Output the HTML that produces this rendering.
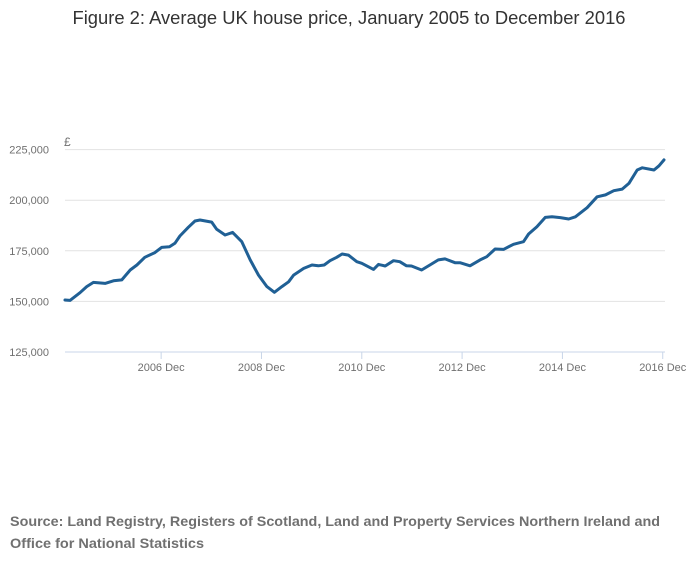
<!DOCTYPE html>
<html><head><meta charset="utf-8"><style>
body{margin:0;background:#fff;font-family:"Liberation Sans",sans-serif;}
svg{display:block}
</style></head><body>
<svg width="700" height="574" viewBox="0 0 700 574">
<text x="349" y="24" text-anchor="middle" font-size="18" fill="#333" textLength="553" lengthAdjust="spacingAndGlyphs">Figure 2: Average UK house price, January 2005 to December 2016</text>
<g id="grid"></g>
<g id="yl"></g>
<text x="64" y="146" font-size="12" fill="#707070">£</text>
<line x1="65" y1="352" x2="665" y2="352" stroke="#c8d5e8" stroke-width="1"/>
<g id="xt"></g>
<path id="line" fill="none" stroke="#206095" stroke-width="3" stroke-linejoin="round" stroke-linecap="round"/>
<text x="10" y="526" font-size="14" font-weight="bold" fill="#707070" textLength="650" lengthAdjust="spacingAndGlyphs">Source: Land Registry, Registers of Scotland, Land and Property Services Northern Ireland and</text>
<text x="10" y="548" font-size="14" font-weight="bold" fill="#707070" textLength="194" lengthAdjust="spacingAndGlyphs">Office for National Statistics</text>
</svg>
<script>
const months=[0,1.2,3.6,5.2,6.8,9.6,11.6,13.6,15.6,17.2,19.1,21.5,23.1,25,26.3,27.5,29.5,31.1,32.3,35.1,36.3,38.3,40.1,42.3,44.3,46.3,48.3,50.1,51.9,53.5,54.7,57.1,59.1,60.6,62,63.4,65,66.3,67.8,69.8,71,72.6,73.8,75,76.6,78.6,80.1,81.7,82.9,85.3,87.3,89.3,90.9,93.3,94.5,96.9,99.3,100.9,102.9,104.9,107.3,109.7,110.9,112.9,114.9,116.5,118.5,120.5,122.1,124.9,127.3,129.3,131.3,133.3,134.9,136.9,138.1,140.9,142.1,143.3];
const prices=[150700,150500,154300,157300,159400,158900,160200,160600,165500,168000,171800,174100,176700,177000,178700,182300,186600,189700,190200,189200,185600,182800,184100,179500,170500,163000,157300,154500,157300,159700,163000,166300,168000,167600,168000,170100,171800,173400,172900,169600,168800,167100,165800,168300,167500,170100,169600,167600,167500,165500,168000,170500,171000,169100,169100,167600,170500,172100,175900,175700,178200,179500,183300,186900,191500,191800,191400,190700,191800,196300,201700,202600,204700,205500,208300,214900,216000,214900,217000,219900];
const yTicks=[125000,150000,175000,200000,225000];
const xTickMonths=[23,47,71,95,119,143];
const xTickLabels=["2006 Dec","2008 Dec","2010 Dec","2012 Dec","2014 Dec","2016 Dec"];
const NS="http://www.w3.org/2000/svg";
const X=m=>65+m*4.18;
const Y=v=>352-(v-125000)/25000*50.6;
const grid=document.getElementById('grid'),yl=document.getElementById('yl'),xt=document.getElementById('xt');
yTicks.forEach(v=>{
  if(v>125000){const l=document.createElementNS(NS,'line');
  l.setAttribute('x1',65);l.setAttribute('x2',665);l.setAttribute('y1',Y(v));l.setAttribute('y2',Y(v));
  l.setAttribute('stroke','#e2e2e2');
  
  
  grid.appendChild(l);}
  const t=document.createElementNS(NS,'text');
  t.setAttribute('x',49);t.setAttribute('y',Y(v)+4);t.setAttribute('text-anchor','end');
  t.setAttribute('font-size','11');t.setAttribute('fill','#707070');
  t.textContent=v.toLocaleString('en-GB');
  
  
  yl.appendChild(t);
});
xTickMonths.forEach((m,i)=>{
  const l=document.createElementNS(NS,'line');
  l.setAttribute('x1',X(m));l.setAttribute('x2',X(m));l.setAttribute('y1',352);l.setAttribute('y2',359);
  l.setAttribute('stroke','#c8d5e8');
  
  
  xt.appendChild(l);
  const t=document.createElementNS(NS,'text');
  t.setAttribute('x',X(m));t.setAttribute('y',371);t.setAttribute('text-anchor','middle');
  t.setAttribute('font-size','11');t.setAttribute('fill','#707070');
  t.textContent=xTickLabels[i];
  
  
  xt.appendChild(t);
});
document.getElementById('line').setAttribute('d',months.map((m,i)=>(i?'L':'M')+X(m).toFixed(1)+','+Y(prices[i]).toFixed(1)).join(''));
</script>
</body></html>
